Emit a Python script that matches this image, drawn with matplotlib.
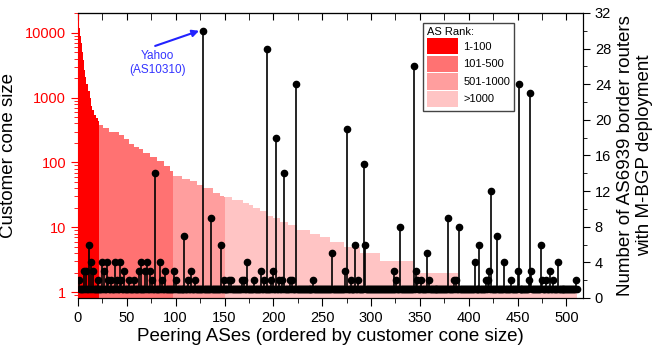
import numpy as np
import matplotlib
matplotlib.use('Agg')
import matplotlib.pyplot as plt
from matplotlib.patches import Patch
from matplotlib.ticker import FixedLocator, MultipleLocator, LogLocator, NullFormatter

plt.rcParams['font.family'] = ['Liberation Sans', 'DejaVu Sans']

# customer cone size, step starts (peer index) and values
cone_x = [0, 1, 2, 3, 4, 5, 6, 7, 8, 10, 12, 13, 14, 16, 18, 20, 22, 26, 32, 42, 47, 52, 57, 62,
          67, 74, 81, 88, 94, 97, 106, 115, 122, 128, 138, 145, 149, 158, 169, 175, 179, 186,
          194, 200, 207, 215, 224, 238, 248, 258, 272, 289, 309, 343, 389]
cone_v = [20000, 12000, 9000, 7000, 5000, 3850, 2700, 2100, 1600, 1250, 1000, 750, 650, 540, 480,
          430, 385, 340, 300, 270, 230, 190, 175, 160, 142, 120, 104, 88, 73, 61, 55, 51, 45, 40,
          34, 30, 29, 26, 24, 22, 20, 18, 15, 14, 12, 11, 9, 8, 7, 6, 5, 4, 3, 2, 1]
n_peers = 511

# AS rank groups (peer index where each group starts)
rank_labels = ['1-100', '101-500', '501-1000', '>1000']
rank_start = [0, 22, 97, 150]
rank_colors = ['#ff0000', '#ff7272', '#ff9e9e', '#ffc4c4']

# border routers with M-BGP deployment (all other peers have 1)
mbgp_x = [1, 6, 8, 11, 13, 15, 20, 25, 27, 30, 31, 34, 38, 40, 43, 44, 47, 52, 57, 62, 64, 69, 71,
          74, 76, 79, 84, 86, 89, 98, 100, 109, 113, 116, 120, 128, 136, 146, 149, 155, 157, 168,
          170, 173, 180, 187, 190, 194, 198, 200, 203, 206, 209, 211, 217, 219, 223, 241, 260, 273,
          275, 279, 284, 287, 293, 294, 323, 326, 330, 344, 346, 347, 351, 357, 359, 379, 385, 387,
          390, 406, 411, 418, 420, 421, 423, 429, 436, 443, 450, 451, 462, 463, 464, 474, 475, 479,
          483, 486, 491, 510]
mbgp_v = [2, 3, 3, 6, 4, 3, 2, 4, 3, 4, 2, 2, 4, 2, 4, 2, 3, 2, 2, 3, 4, 3, 4,
          3, 2, 14, 4, 2, 3, 3, 2, 7, 2, 3, 2, 30, 9, 6, 2, 2, 2, 2,
          2, 4, 2, 3, 2, 28, 2, 3, 18, 2, 2, 14, 2, 2, 24, 2, 5, 3,
          19, 2, 6, 2, 15, 6, 3, 2, 8, 26, 3, 2, 2, 5, 2, 9, 2, 2,
          8, 4, 6, 2, 2, 3, 12, 7, 4, 2, 3, 24, 2, 23, 3, 6, 2, 2,
          3, 2, 4, 2]

peers = np.arange(1, n_peers + 1)
routers = np.ones(n_peers)
routers[np.array(mbgp_x) - 1] = mbgp_v

fig = plt.figure(figsize=(6.57, 3.56), dpi=100)
ax = fig.add_axes([0.1187, 0.163, 0.7687, 0.8005])

cx = np.array(cone_x, dtype=float)
cv = np.array(cone_v, dtype=float)

def cone_at(p):
    return cv[np.searchsorted(cx, p, side='right') - 1]

ends = rank_start[1:] + [n_peers]
for a, b, col in zip(rank_start, ends, rank_colors):
    xs = [a] + [x for x in cx if a < x < b] + [b]
    ys = [cone_at(x) for x in xs]
    ax.fill_between(xs, ys, 0.1, step='post', color=col, lw=0)

ax.set_yscale('log')
ax.set_xlim(0, 517)
ax.set_ylim(0.81, 20300)
ax.yaxis.set_major_locator(FixedLocator([1, 10, 100, 1000, 10000]))
ax.set_yticklabels(['1', '10', '100', '1000', '10000'])
ax.yaxis.set_minor_locator(LogLocator(base=10, subs=np.arange(2, 10)))
ax.yaxis.set_minor_formatter(NullFormatter())
ax.xaxis.set_major_locator(MultipleLocator(50))
ax.xaxis.set_minor_locator(MultipleLocator(25))
ax.tick_params(axis='y', which='both', colors='red', labelsize=10.5)
ax.tick_params(axis='y', which='major', length=5)
ax.tick_params(axis='y', which='minor', length=3)
ax.tick_params(axis='x', which='major', length=6, labelsize=10.5)
ax.tick_params(axis='x', which='minor', length=3.5)
ax.spines['left'].set_color('red')
ax.set_xlabel('Peering ASes (ordered by customer cone size)', fontsize=13.5, labelpad=2)
ax.set_ylabel('Customer cone size', fontsize=13.5, labelpad=6)

top = ax.secondary_xaxis('top')
top.xaxis.set_major_locator(MultipleLocator(50))
top.xaxis.set_minor_locator(MultipleLocator(25))
top.tick_params(which='both', direction='in', labeltop=False, length=5)

ax2 = ax.twinx()
ax2.vlines(peers, 1, routers, color='k', lw=1.2)
ax2.plot(peers, routers, 'o', ms=4.5, color='k')
ax2.set_ylim(0, 32)
ax2.set_xlim(0, 517)
ax2.yaxis.set_major_locator(MultipleLocator(4))
ax2.yaxis.set_minor_locator(MultipleLocator(2))
ax2.tick_params(axis='y', which='major', length=5, labelsize=10.5)
ax2.tick_params(axis='y', which='minor', length=3)
ax2.spines['left'].set_visible(False)
ax2.set_ylabel('Number of AS6939 border routers\nwith M-BGP deployment', fontsize=13.5, labelpad=4)

ax2.text(81, 26.4, 'Yahoo\n(AS10310)', color='#3333ff', fontsize=8.5, ha='center', va='center',
         linespacing=1.3)
ax2.annotate('', xy=(124, 30), xytext=(79, 28.3),
             arrowprops=dict(arrowstyle='-|>', color='#2222ff', lw=1.5, mutation_scale=10,
                             shrinkA=0, shrinkB=0))

handles = [Patch(facecolor=c, edgecolor='none') for c in rank_colors]
leg = ax2.legend(handles, rank_labels, title='AS Rank:', loc='upper left',
                 bbox_to_anchor=(0.683, 0.965), borderaxespad=0, fontsize=8, title_fontsize=8,
                 handlelength=2.8, handleheight=1.9, labelspacing=0.1, handletextpad=0.5,
                 borderpad=0.35, fancybox=False, framealpha=1, edgecolor='#444444',
                 alignment='left')
leg.get_frame().set_linewidth(1.0)

plt.savefig('out.png', dpi=100)
